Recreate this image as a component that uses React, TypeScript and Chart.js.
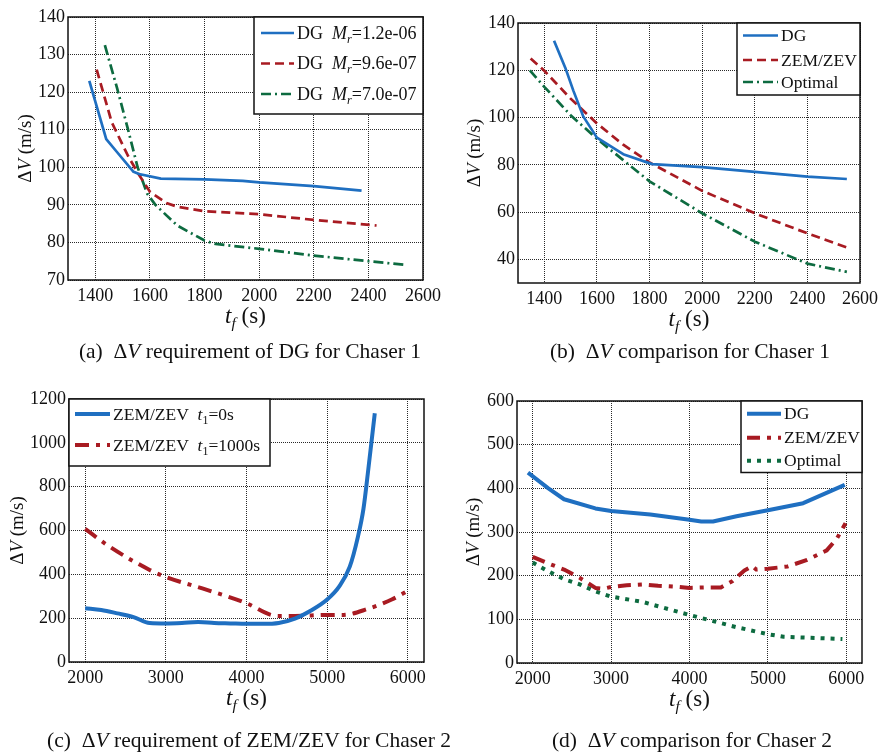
import React, { useEffect, useRef } from "react";
import { Chart, registerables } from "chart.js";

Chart.register(...registerables);

// ---------- DATA ----------
// (a) DG, Chaser 1
const A_X_TICKS = [1400, 1600, 1800, 2000, 2200, 2400, 2600];
const A_Y_TICKS = [70, 80, 90, 100, 110, 120, 130, 140];
const A_TF_MR12 = [1378, 1440, 1480, 1540, 1560, 1640, 1800, 1940, 2000, 2200, 2375];
const A_DV_MR12 = [123, 107.5, 104, 98.8, 98.2, 97, 96.8, 96.4, 96, 95, 93.8];
const A_TF_MR96 = [1405, 1460, 1520, 1560, 1600, 1660, 1700, 1800, 2000, 2200, 2430];
const A_DV_MR96 = [126, 112, 103, 98, 93.5, 90.5, 89.5, 88.3, 87.5, 86, 84.5];
const A_TF_MR70 = [1435, 1480, 1520, 1555, 1590, 1620, 1700, 1800, 1840, 2000, 2200, 2400, 2540];
const A_DV_MR70 = [132.5, 121, 110, 100, 93, 90, 84.5, 80.5, 79.6, 78.3, 76.5, 75, 74];

// (b) comparison, Chaser 1
const B_X_TICKS = [1400, 1600, 1800, 2000, 2200, 2400, 2600];
const B_Y_TICKS = [40, 60, 80, 100, 120, 140];
const B_TF_DG = [1437, 1480, 1510, 1548, 1600, 1700, 1810, 2000, 2200, 2400, 2550];
const B_DV_DG = [132.5, 121, 111.5, 100.5, 91.5, 84.5, 80.3, 79, 77, 75, 74];
const B_TF_ZEM = [1348, 1400, 1500, 1600, 1700, 1800, 2000, 2200, 2400, 2550];
const B_DV_ZEM = [125, 119.8, 108, 97.5, 88.5, 81, 69, 59.5, 51, 45];
const B_TF_OPT = [1345, 1400, 1500, 1600, 1700, 1800, 2000, 2200, 2400, 2550];
const B_DV_OPT = [120, 113, 101, 91, 82, 73, 59.5, 47.5, 38.2, 34.7];

// (c) ZEM/ZEV, Chaser 2
const C_X_TICKS = [2000, 3000, 4000, 5000, 6000];
const C_Y_TICKS = [0, 200, 400, 600, 800, 1000, 1200];
const C_TF_T0 = [2000, 2200, 2400, 2600, 2800, 3000, 3200, 3400, 3600, 3800, 4000, 4200, 4400, 4600, 4800, 5000, 5150, 5280, 5380, 5450, 5510, 5590];
const C_DV_T0 = [245, 237, 222, 205, 178, 176, 178, 182, 178, 176, 174, 174, 178, 198, 235, 285, 345, 435, 570, 700, 880, 1135];
const C_TF_T1000 = [2000, 2300, 2800, 3000, 3500, 4000, 4300, 4400, 4600, 5000, 5200, 5500, 5800, 6000];
const C_DV_T1000 = [607, 527, 420, 388, 330, 268, 215, 210, 210, 215, 215, 242, 285, 325];

// (d) comparison, Chaser 2
const D_X_TICKS = [2000, 3000, 4000, 5000, 6000];
const D_Y_TICKS = [0, 100, 200, 300, 400, 500, 600];
const D_TF_DG = [1940, 2200, 2400, 2800, 3000, 3500, 4000, 4150, 4300, 4600, 5000, 5450, 5980];
const D_DV_DG = [436, 400, 375, 354, 348, 340, 328, 324, 324, 336, 350, 366, 408];
const D_TF_ZEM = [2000, 2200, 2400, 2600, 2800, 2900, 3000, 3200, 3400, 3600, 3800, 4000, 4200, 4400, 4550, 4700, 4800, 4850, 5000, 5250, 5500, 5750, 5880, 5990];
const D_DV_ZEM = [243, 228, 214, 195, 172, 170, 174, 178, 180, 177, 175, 172, 173, 173, 188, 212, 222, 214, 216, 221, 236, 258, 285, 320];
const D_TF_OPT = [2000, 2200, 2400, 2600, 2800, 3000, 3400, 3600, 4000, 4300, 4600, 5000, 5200, 5500, 5950];
const D_DV_OPT = [230, 210, 192, 180, 164, 152, 140, 130, 110, 96, 82, 66, 60, 58, 55];

// ---------- STYLE ----------
const FONT = '"Liberation Serif", "Times New Roman", serif';
const BLUE = "#1f6fc1";
const RED = "#a81b22";
const GREEN = "#0d6b40";
const W = 883;
const H = 752;

type Part = { t: string; i?: boolean; sub?: boolean };

function fontOf(p: Part, size: number) {
  const s = p.sub ? size * 0.68 : size;
  return `${p.i ? "italic " : ""}${s}px ${FONT}`;
}
function richWidth(ctx: CanvasRenderingContext2D, parts: Part[], size: number) {
  let w = 0;
  for (const p of parts) {
    ctx.font = fontOf(p, size);
    w += ctx.measureText(p.t).width;
  }
  return w;
}
function drawRich(ctx: CanvasRenderingContext2D, parts: Part[], x: number, y: number, size: number, align: "left" | "center") {
  const w = richWidth(ctx, parts, size);
  let cx = align === "center" ? x - w / 2 : x;
  ctx.textAlign = "left";
  ctx.textBaseline = "alphabetic";
  ctx.fillStyle = "#111";
  for (const p of parts) {
    ctx.font = fontOf(p, size);
    ctx.fillText(p.t, cx, p.sub ? y + size * 0.22 : y);
    cx += ctx.measureText(p.t).width;
  }
}

const panelPlugin = {
  id: "panelDeco",
  afterDraw(chart: any, _args: any, opts: any) {
    const ctx: CanvasRenderingContext2D = chart.ctx;
    const a = chart.chartArea;
    ctx.save();
    ctx.setLineDash([]);
    ctx.strokeStyle = "#111";
    ctx.lineWidth = 1.5;
    ctx.strokeRect(a.left, a.top, a.right - a.left, a.bottom - a.top);
    // x title
    drawRich(ctx, [{ t: "t", i: true }, { t: "f", i: true, sub: true }, { t: " (s)" }], (a.left + a.right) / 2, a.bottom + opts.xTitleOffset, 23, "center");
    // y title
    ctx.save();
    ctx.translate(a.left - opts.yTitleOffset, (a.top + a.bottom) / 2);
    ctx.rotate(-Math.PI / 2);
    drawRich(ctx, [{ t: "Δ" }, { t: "V", i: true }, { t: " (m/s)" }], 0, 19 * 0.33, 19, "center");
    ctx.restore();
    // legend
    const lg = opts.legend;
    const bx = lg.anchor === "right" ? a.right - lg.w : a.left;
    const by = a.top;
    ctx.fillStyle = "#fff";
    ctx.fillRect(bx, by, lg.w, lg.h);
    ctx.strokeStyle = "#111";
    ctx.lineWidth = 1.5;
    ctx.strokeRect(bx, by, lg.w, lg.h);
    lg.items.forEach((it: any, k: number) => {
      const ds = chart.data.datasets[k];
      const ry = by + lg.rows[k];
      ctx.save();
      ctx.strokeStyle = ds.borderColor;
      ctx.lineWidth = ds.borderWidth;
      ctx.setLineDash(ds.borderDash || []);
      ctx.beginPath();
      ctx.moveTo(bx + lg.lx0, ry);
      ctx.lineTo(bx + lg.lx1, ry);
      ctx.stroke();
      ctx.restore();
      drawRich(ctx, it, bx + lg.tx, ry + lg.size * 0.33, lg.size, "left");
    });
    ctx.restore();
  },
};

function pts(xs: number[], ys: number[]) {
  return xs.map((x, i) => ({ x, y: ys[i] }));
}

function ds(xs: number[], ys: number[], color: string, width: number, dash: number[], smooth = false) {
  return {
    data: pts(xs, ys),
    borderColor: color,
    backgroundColor: color,
    borderWidth: width,
    borderDash: dash,
    pointRadius: 0,
    fill: false,
    tension: 0,
    borderJoinStyle: "round",
    cubicInterpolationMode: smooth ? "monotone" : "default",
  };
}

function axis(min: number, max: number, ticks: number[], isX: boolean, size: number) {
  return {
    type: "linear",
    min,
    max,
    afterBuildTicks: (s: any) => {
      s.ticks = ticks.map((v) => ({ value: v }));
    },
    afterFit: (s: any) => {
      if (isX) s.height = size;
      else s.width = size;
    },
    grid: { color: "#2a2a2a", lineWidth: 1, drawTicks: false, tickLength: 0 },
    border: { display: false, dash: [1, 1] },
    ticks: {
      autoSkip: false,
      maxRotation: 0,
      padding: isX ? 5 : 3,
      color: "#111",
      font: { family: FONT, size: 18 },
      callback: (v: any) => String(v),
    },
  };
}

type Panel = {
  area: [number, number, number, number];
  x: [number, number, number[]];
  y: [number, number, number[]];
  datasets: any[];
  legend: any;
  yTitleOffset: number;
};

const I = (t: string): Part => ({ t, i: true });
const R = (t: string): Part => ({ t });
const S = (t: string): Part => ({ t, i: true, sub: true });

const PANELS: Panel[] = [
  {
    area: [68, 17, 423, 280],
    x: [1300, 2600, A_X_TICKS],
    y: [70, 140, A_Y_TICKS],
    datasets: [
      ds(A_TF_MR12, A_DV_MR12, BLUE, 2.7, []),
      ds(A_TF_MR96, A_DV_MR96, RED, 2.7, [9, 5]),
      ds(A_TF_MR70, A_DV_MR70, GREEN, 2.7, [10, 4, 2, 4]),
    ],
    legend: {
      anchor: "right", w: 169, h: 97, lx0: 7, lx1: 40, tx: 43, size: 18, rows: [16, 46.5, 77],
      items: [
        [R("DG  "), I("M"), S("r"), R("=1.2e-06")],
        [R("DG  "), I("M"), S("r"), R("=9.6e-07")],
        [R("DG  "), I("M"), S("r"), R("=7.0e-07")],
      ],
    },
    yTitleOffset: 43,
  },
  {
    area: [518, 23, 865, 283],
    x: [1300, 2600, B_X_TICKS],
    y: [30, 140, B_Y_TICKS],
    datasets: [
      ds(B_TF_DG, B_DV_DG, BLUE, 2.7, []),
      ds(B_TF_ZEM, B_DV_ZEM, RED, 2.7, [9, 5]),
      ds(B_TF_OPT, B_DV_OPT, GREEN, 2.7, [10, 4, 2, 4]),
    ],
    legend: {
      anchor: "right", w: 123, h: 72, lx0: 6, lx1: 41, tx: 44, size: 17.5, rows: [12.5, 37, 59],
      items: [[R("DG")], [R("ZEM/ZEV")], [R("Optimal")]],
    },
    yTitleOffset: 44,
  },
  {
    area: [69, 399, 424, 662],
    x: [1800, 6200, C_X_TICKS],
    y: [0, 1200, C_Y_TICKS],
    datasets: [
      ds(C_TF_T0, C_DV_T0, BLUE, 4, [], true),
      ds(C_TF_T1000, C_DV_T1000, RED, 4, [14, 7, 4, 7], true),
    ],
    legend: {
      anchor: "left", w: 201, h: 67, lx0: 6, lx1: 41, tx: 44, size: 17.5, rows: [15, 46],
      items: [
        [R("ZEM/ZEV  "), I("t"), { t: "1", sub: true }, R("=0s")],
        [R("ZEM/ZEV  "), I("t"), { t: "1", sub: true }, R("=1000s")],
      ],
    },
    yTitleOffset: 52,
  },
  {
    area: [517, 401, 862, 663],
    x: [1800, 6200, D_X_TICKS],
    y: [0, 600, D_Y_TICKS],
    datasets: [
      ds(D_TF_DG, D_DV_DG, BLUE, 4, []),
      ds(D_TF_ZEM, D_DV_ZEM, RED, 4, [13, 7, 4, 7]),
      ds(D_TF_OPT, D_DV_OPT, GREEN, 4, [4, 6]),
    ],
    legend: {
      anchor: "right", w: 121, h: 71.5, lx0: 6, lx1: 40, tx: 43, size: 17.5, rows: [12.7, 36.7, 59.7],
      items: [[R("DG")], [R("ZEM/ZEV")], [R("Optimal")]],
    },
    yTitleOffset: 44,
  },
];

function PanelChart({ p }: { p: Panel }) {
  const ref = useRef<HTMLCanvasElement | null>(null);
  useEffect(() => {
    if (!ref.current) return;
    const [L, T, Rr, B] = p.area;
    const yW = 60;
    const xH = 30;
    const chart = new Chart(ref.current, {
      type: "line",
      data: { datasets: p.datasets },
      options: {
        responsive: false,
        animation: false,
        events: [],
        layout: { padding: { left: L - yW, top: T, right: W - Rr, bottom: H - B - xH } },
        scales: {
          x: axis(p.x[0], p.x[1], p.x[2], true, xH) as any,
          y: axis(p.y[0], p.y[1], p.y[2], false, yW) as any,
        },
        plugins: {
          legend: { display: false },
          tooltip: { enabled: false },
          panelDeco: { legend: p.legend, xTitleOffset: 43, yTitleOffset: p.yTitleOffset },
        } as any,
      },
      plugins: [panelPlugin as any],
    });
    return () => chart.destroy();
  }, [p]);
  return (
    <canvas
      ref={ref}
      width={W}
      height={H}
      style={{ position: "absolute", left: 0, top: 0, width: W, height: H }}
    />
  );
}

function Caption({ cx, cy, children }: { cx: number; cy: number; children: React.ReactNode }) {
  return (
    <div
      style={{
        position: "absolute",
        left: cx - 300,
        top: cy - 14,
        width: 600,
        height: 28,
        lineHeight: "28px",
        textAlign: "center",
        fontFamily: FONT,
        fontSize: 21.5,
        color: "#111",
        whiteSpace: "nowrap",
      }}
    >
      {children}
    </div>
  );
}

const DV = (
  <>
    Δ<i>V</i>
  </>
);

export default function App() {
  return (
    <div style={{ position: "absolute", left: 0, top: 0, width: W, height: H, background: "#fff", overflow: "hidden" }}>
      {PANELS.map((p, i) => (
        <PanelChart key={i} p={p} />
      ))}
      <Caption cx={250} cy={351}>(a)&nbsp; {DV} requirement of DG for Chaser 1</Caption>
      <Caption cx={690} cy={351}>(b)&nbsp; {DV} comparison for Chaser 1</Caption>
      <Caption cx={249} cy={740}>(c)&nbsp; {DV} requirement of ZEM/ZEV for Chaser 2</Caption>
      <Caption cx={692} cy={740}>(d)&nbsp; {DV} comparison for Chaser 2</Caption>
    </div>
  );
}
